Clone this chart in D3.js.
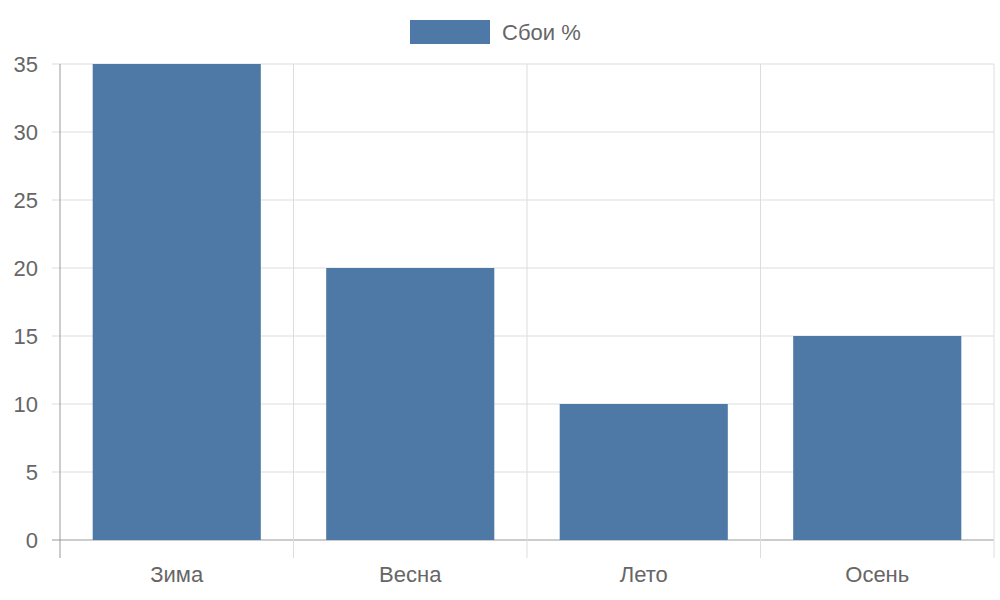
<!DOCTYPE html>
<html><head><meta charset="utf-8">
<script src="https://cdn.jsdelivr.net/npm/d3@7"></script>
<style>body{margin:0;background:#fff}text{font-family:"Liberation Sans",Arial,sans-serif;fill:#666}</style>
</head><body><svg id="chart" width="1000" height="600"></svg>
<script>
const categories = ["Зима", "Весна", "Лето", "Осень"];
const values = [35, 20, 10, 15];
const seriesName = "Сбои %";
const yTicks = [0, 5, 10, 15, 20, 25, 30, 35];

const svg = d3.select("#chart");
const plotLeft = 60, plotRight = 994, plotTop = 64, plotBottom = 540;
const color = "#4e79a7";

const x = d3.scaleBand().domain(categories).range([plotLeft, plotRight]);
const y = d3.scaleLinear().domain([0, 35]).range([plotBottom, plotTop]);

// grid
svg.append("g").selectAll("line").data(yTicks).join("line")
  .attr("x1", plotLeft - 8).attr("x2", plotRight).attr("y1", d => y(d)).attr("y2", d => y(d))
  .attr("stroke", d => d === 0 ? "#999" : "#ddd").attr("stroke-width", 1);
const xs = categories.map(c => x(c)).concat([plotRight]);
svg.append("g").selectAll("line").data(xs).join("line")
  .attr("x1", d => d).attr("x2", d => d).attr("y1", plotTop).attr("y2", plotBottom + 18)
  .attr("stroke", (d, i) => i === 0 ? "#999" : "#ddd");

// bars
const bw = x.bandwidth() * 0.72;
svg.append("g").selectAll("rect").data(values).join("rect")
  .attr("x", (d, i) => x(categories[i]) + (x.bandwidth() - bw) / 2)
  .attr("width", bw).attr("y", d => y(d)).attr("height", d => plotBottom - y(d))
  .attr("fill", color);

// y labels
svg.append("g").selectAll("text").data(yTicks).join("text")
  .attr("x", 38).attr("y", d => y(d)).attr("dy", "0.35em").attr("text-anchor", "end")
  .attr("font-size", 22).text(d => d);

// x labels
svg.append("g").selectAll("text").data(categories).join("text")
  .attr("x", d => x(d) + x.bandwidth() / 2).attr("y", 574).attr("dy", "0.35em")
  .attr("text-anchor", "middle").attr("font-size", 22).text(d => d);

// legend
svg.append("rect").attr("x", 410).attr("y", 20).attr("width", 80).attr("height", 24).attr("fill", color);
svg.append("text").attr("x", 502).attr("y", 32).attr("dy", "0.35em").attr("font-size", 22).text(seriesName);
</script></body></html>
